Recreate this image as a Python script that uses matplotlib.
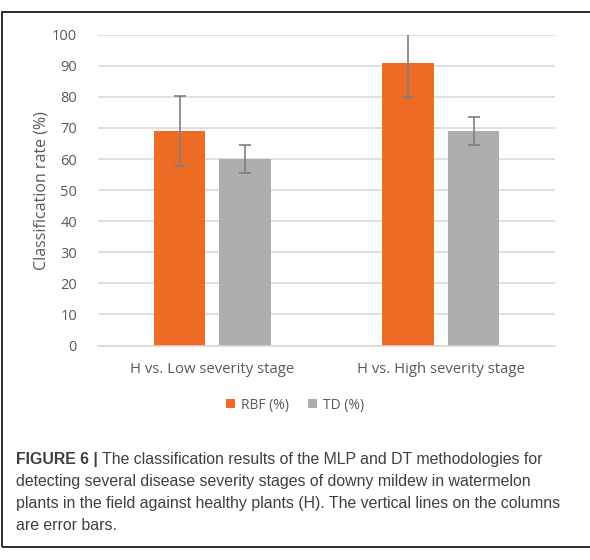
import matplotlib
matplotlib.use("Agg")
import matplotlib.pyplot as plt
from matplotlib.patches import Rectangle
import numpy as np

categories = ["H vs. Low severity stage", "H vs. High severity stage"]
rbf_values = [69.0, 90.8]
rbf_errors = [11.2, 10.8]
td_values = [60.0, 69.0]
td_errors = [4.6, 4.6]
series_names = ["RBF (%)", "TD (%)"]
yticks = [0, 10, 20, 30, 40, 50, 60, 70, 80, 90, 100]

ORANGE = "#EE6B25"
GRAY = "#AEAEAE"
TXT = "#595959"
GRID = "#D9D9D9"
ERR = "#7F7F7F"

fig = plt.figure(figsize=(5.9, 5.6), dpi=100)
ax = fig.add_axes([0.166, 0.383, 0.775, 0.555])

x = np.arange(len(categories))
w = 0.225
gap = 0.061
off = (w + gap) / 2
ax.bar(x - off, rbf_values, w, color=ORANGE, label=series_names[0], zorder=2)
ax.bar(x + off, td_values, w, color=GRAY, label=series_names[1], zorder=2)
ekw = dict(ecolor=ERR, elinewidth=1.2, capsize=4, capthick=1.2, fmt="none", zorder=3)
ax.errorbar(x - off, rbf_values, yerr=rbf_errors, **ekw)
ax.errorbar(x + off, td_values, yerr=td_errors, **ekw)

ax.set_xlim(-0.5, len(categories) - 0.5)
ax.set_ylim(0, 100)
ax.set_yticks(yticks)
ax.set_yticklabels([str(t) for t in yticks], fontsize=10.5, color=TXT, family="Open Sans")
ax.set_xticks(x)
ax.set_xticklabels(categories, fontsize=10.7, color=TXT, family="Open Sans")
ax.tick_params(axis="y", length=0, pad=15)
ax.tick_params(axis="x", length=0, pad=12)
ax.yaxis.grid(True, color=GRID, linewidth=1.2, zorder=0)
ax.set_axisbelow(True)
for s in ["top", "right", "left"]:
    ax.spines[s].set_visible(False)
ax.spines["bottom"].set_color(GRID)
ax.spines["bottom"].set_linewidth(1.2)
ax.set_ylabel("Classification rate (%)", fontsize=11.5, color=TXT, family="Open Sans", labelpad=2)

leg = fig.legend(loc="center", bbox_to_anchor=(0.5, 1 - 405 / 560), ncol=2, frameon=False,
                 handlelength=0.65, handleheight=0.65, handletextpad=0.4,
                 columnspacing=1.4, prop={"family": "Open Sans", "size": 10})
for t in leg.get_texts():
    t.set_color(TXT)

# outer border
fig.patches.append(Rectangle((2 / 590, 1 - 547 / 560), 1.0, (547 - 12) / 560,
                             transform=fig.transFigure, fill=False,
                             edgecolor="#2B2B2B", linewidth=1.4))

cap_font = dict(family="Liberation Sans", fontsize=11.4, color="#404040")
baselines = [464, 486, 508, 530]
t1 = fig.text(16 / 590, 1 - baselines[0] / 560, "FIGURE 6 |", fontweight="bold",
              va="baseline", ha="left", **cap_font)
fig.canvas.draw()
bb = t1.get_window_extent()
fig.text(bb.x1 / 590 + 4 / 590, 1 - baselines[0] / 560,
         "The classification results of the MLP and DT methodologies for",
         va="baseline", ha="left", **cap_font)
lines = ["detecting several disease severity stages of downy mildew in watermelon",
         "plants in the field against healthy plants (H). The vertical lines on the columns",
         "are error bars."]
for i, ln in enumerate(lines):
    fig.text(16 / 590, 1 - baselines[i + 1] / 560, ln, va="baseline", ha="left", **cap_font)

fig.savefig("out.png", dpi=100)
